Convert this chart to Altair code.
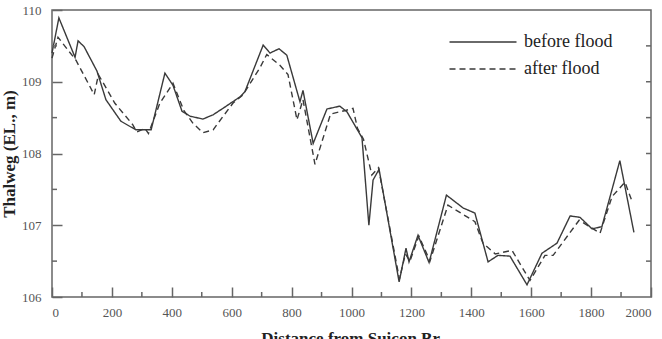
import altair as alt
import pandas as pd

before_d = [0, 23, 77, 87, 107, 150, 180, 230, 280, 331, 377, 404, 434, 461, 504,
            538, 571, 628, 644, 705, 728, 758, 784, 828, 838, 872, 918, 961, 985, 1035,
            1058, 1072, 1092, 1159, 1182, 1192, 1222, 1259, 1317, 1373, 1412, 1456, 1489,
            1529, 1586, 1636, 1686, 1730, 1763, 1803, 1836, 1896, 1943]
before_v = [109.4, 109.89, 109.34, 109.57, 109.49, 109.15, 108.75, 108.45, 108.33, 108.33,
            109.12, 108.95, 108.59, 108.52, 108.48, 108.54, 108.63, 108.79, 108.86, 109.51,
            109.4, 109.46, 109.37, 108.72, 108.88, 108.14, 108.62, 108.66, 108.58, 108.22,
            107.0, 107.63, 107.78, 106.21, 106.68, 106.49, 106.86, 106.48, 107.42, 107.24,
            107.17, 106.49, 106.58, 106.57, 106.17, 106.61, 106.75, 107.13, 107.11, 106.95,
            106.98, 107.9, 106.9]

after_d = [0, 20, 80, 141, 155, 210, 270, 283, 310, 322, 360, 404, 440, 471, 504,
           538, 568, 604, 638, 695, 717, 761, 788, 818, 838, 878, 930, 980, 1005, 1020,
           1040, 1068, 1090, 1160, 1180, 1195, 1225, 1262, 1322, 1412, 1439, 1480, 1536,
           1596, 1646, 1673, 1730, 1760, 1830, 1870, 1913, 1937]
after_v = [109.33, 109.62, 109.3, 108.82, 109.1, 108.7, 108.4, 108.3, 108.35, 108.28,
           108.7, 108.98, 108.6, 108.42, 108.29, 108.33, 108.5, 108.7, 108.82, 109.2,
           109.38, 109.23, 109.1, 108.47, 108.75, 107.85, 108.55, 108.6, 108.63, 108.35,
           108.2, 107.7, 107.8, 106.25, 106.6, 106.5, 106.85, 106.5, 107.28, 107.05,
           106.75, 106.6, 106.65, 106.23, 106.58, 106.58, 106.9, 107.07, 106.89, 107.4,
           107.6, 107.33]

series_names = ["before flood", "after flood"]
x_major = [0, 200, 400, 600, 800, 1000, 1200, 1400, 1600, 1800, 2000]
x_minor = [100, 300, 500, 700, 900, 1100, 1300, 1500, 1700, 1900]
y_major = [106, 107, 108, 109, 110]
y_minor = [106.5, 107.5, 108.5, 109.5]
y_right = [106.5, 107, 107.5, 108, 108.5, 109, 109.5]

W, H = 599, 287
FONT = "Liberation Serif"
GREY = "#666666"

df = pd.concat([
    pd.DataFrame({"d": before_d, "v": before_v, "s": series_names[0], "o": range(len(before_d))}),
    pd.DataFrame({"d": after_d, "v": after_v, "s": series_names[1], "o": range(len(after_d))}),
])

xs = alt.Scale(domain=[0, 2000], nice=False)
ys = alt.Scale(domain=[106, 110], nice=False, zero=False)

lines = alt.Chart(df).mark_line(strokeWidth=1.4, color="#3a3a3a").encode(
    x=alt.X("d:Q", scale=xs, axis=alt.Axis(
        values=x_major, format="d", tickSize=10, offset=-10, domain=False, grid=False,
        tickColor=GREY, tickWidth=1.5, labelFont=FONT, labelFontSize=13, labelColor="#555555",
        labelPadding=9, title="Distance from Suicon Br.", titleFont=FONT, titleFontSize=17,
        titleFontWeight="bold", titleColor="#222222", titlePadding=11)),
    y=alt.Y("v:Q", scale=ys, axis=alt.Axis(
        values=y_major, format="d", tickSize=10, offset=-10, domain=False, grid=False,
        tickColor=GREY, tickWidth=1.5, labelFont=FONT, labelFontSize=13, labelColor="#555555",
        labelPadding=11, title="Thalweg (EL., m)", titleFont=FONT, titleFontSize=17,
        titleFontWeight="bold", titleColor="#222222", titlePadding=3)),
    order="o:Q",
    strokeDash=alt.StrokeDash("s:N", scale=alt.Scale(domain=series_names, range=[[1, 0], [6, 4]]),
        legend=alt.Legend(title=None, orient="none", legendX=422, legendY=23,
            symbolType="M-6.7,0H6.7", symbolSize=100, symbolStrokeWidth=1.4,
            symbolStrokeColor="#3a3a3a", labelOffset=32, rowPadding=9,
            labelFont=FONT, labelFontSize=18, labelColor="#222222")),
)

xminor = alt.Chart(pd.DataFrame({"t": x_minor})).mark_rule(color=GREY, strokeWidth=1.5).encode(
    x=alt.X("t:Q", scale=xs), y=alt.value(H), y2=alt.value(H - 5))
yminor = alt.Chart(pd.DataFrame({"t": y_minor})).mark_rule(color=GREY, strokeWidth=1.5).encode(
    y=alt.Y("t:Q", scale=ys), x=alt.value(0), x2=alt.value(5))
yright = alt.Chart(pd.DataFrame({"t": y_right})).mark_rule(color=GREY, strokeWidth=1.5).encode(
    y=alt.Y("t:Q", scale=ys), x=alt.value(W - 5), x2=alt.value(W))

chart = alt.layer(lines, xminor, yminor, yright).properties(
    width=W, height=H,
    autosize=alt.AutoSizeParams(type="none"),
    padding={"left": 52, "top": 10, "right": 11, "bottom": 42},
    background="white",
).configure_view(stroke=GREY, strokeWidth=1.5)

chart.save("out.html", embed_options={"renderer": "svg", "actions": False})
